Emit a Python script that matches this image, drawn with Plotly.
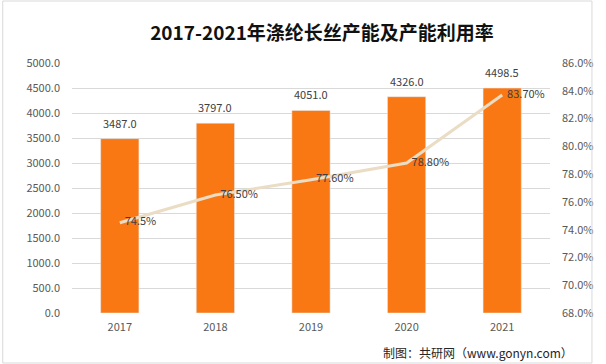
import plotly.graph_objects as go

years = ["2017", "2018", "2019", "2020", "2021"]
capacity = [3487.0, 3797.0, 4051.0, 4326.0, 4498.5]
utilization = [74.5, 76.5, 77.6, 78.8, 83.7]
util_labels = ["74.5%", "76.50%", "77.60%", "78.80%", "83.70%"]
left_ticks = [0, 500, 1000, 1500, 2000, 2500, 3000, 3500, 4000, 4500, 5000]
right_ticks = [68, 70, 72, 74, 76, 78, 80, 82, 84, 86]

font = "Noto Sans CJK SC"
W, H = 606, 364
ml, mr, mt, mb = 72, 44, 63, 51

fig = go.Figure()
fig.add_trace(go.Bar(
    x=years, y=capacity, marker_color="#FA7814", width=0.4,
    showlegend=False, hoverinfo="x+y",
))
fig.add_trace(go.Scatter(
    x=years, y=utilization, yaxis="y2", mode="lines+text",
    line=dict(color="#EBDCC4", width=3),
    text=["  " + t for t in util_labels], textposition="middle right",
    textfont=dict(size=11, color="#404040", family=font),
    cliponaxis=False, showlegend=False,
))

pw = W - ml - mr
ph = H - mt - mb
annotations = [dict(x=i, y=v, xref="x", yref="y", text=f"{v:.1f}", showarrow=False,
                    yanchor="bottom", yshift=6,
                    font=dict(size=11, color="#404040", family=font))
               for i, v in enumerate(capacity)]
annotations.append(dict(text="制图：共研网（www.gonyn.com）", xref="paper", yref="paper",
                        x=(588 - ml) / pw, xanchor="right",
                        y=-(352 - (H - mb)) / ph, yanchor="middle", showarrow=False,
                        font=dict(size=12, color="#262626", family=font)))

fig.update_layout(
    width=W, height=H,
    margin=dict(l=ml, r=mr, t=mt, b=mb, pad=0),
    paper_bgcolor="white", plot_bgcolor="white",
    font=dict(family=font, size=11, color="#595959"),
    title=dict(text="<b>2017-2021年涤纶长丝产能及产能利用率</b>", x=322 / W, xanchor="center",
               xref="container",
               y=1 - 33 / H, yanchor="middle",
               font=dict(size=19, color="#111111", family=font)),
    xaxis=dict(type="category", range=[-0.5, len(years) - 0.5], showgrid=False,
               showline=False, ticks="", ticklabelstandoff=6,
               tickfont=dict(size=11, color="#595959")),
    yaxis=dict(range=[0, 5000], tickvals=left_ticks,
               ticktext=[f"{v:.1f}" for v in left_ticks],
               showgrid=True, gridcolor="#D9D9D9", gridwidth=1, zeroline=False,
               showline=False, ticks="", ticklabelstandoff=11,
               tickfont=dict(size=11, color="#595959")),
    yaxis2=dict(range=[68, 86], tickvals=right_ticks,
                ticktext=[f"{v:.1f}%" for v in right_ticks],
                overlaying="y", side="right", showgrid=False, zeroline=False,
                showline=False, ticks="", ticklabelstandoff=11,
                tickfont=dict(size=11, color="#595959")),
    shapes=[dict(type="rect", xref="paper", yref="paper",
                 x0=-(ml - 1) / pw, x1=1 + (mr - 1) / pw,
                 y0=-(mb - 1) / ph, y1=1 + (mt - 1) / ph,
                 line=dict(color="#D9D9D9", width=1), fillcolor="rgba(0,0,0,0)")],
    annotations=annotations,
)

fig.write_html("out.html", config={"displayModeBar": False},
               post_script="document.body.style.margin='0';")
